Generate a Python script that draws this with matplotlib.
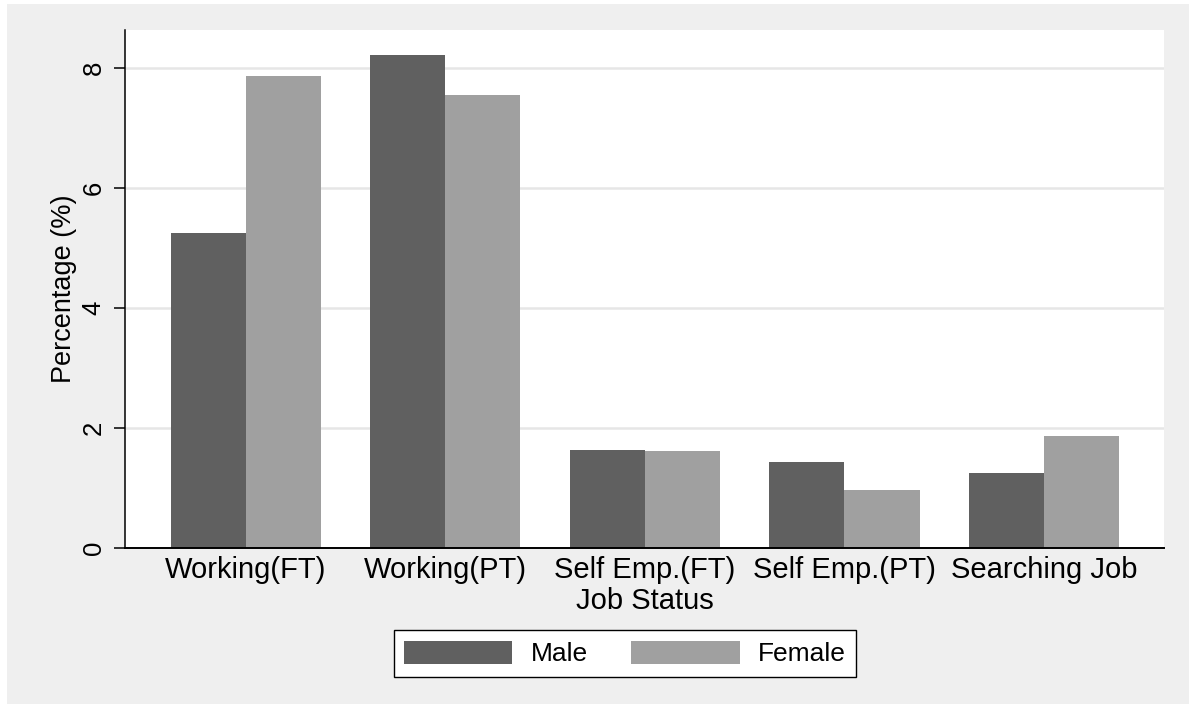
import matplotlib.pyplot as plt
import numpy as np
from matplotlib.patches import Rectangle

plt.rcParams['font.family'] = ['Liberation Sans', 'DejaVu Sans']

# dane
kategorie = ["Working(FT)", "Working(PT)", "Self Emp.(FT)", "Self Emp.(PT)", "Searching Job"]
male = [5.24, 8.22, 1.63, 1.43, 1.24]
female = [7.86, 7.54, 1.61, 0.96, 1.86]

W, H = 1189, 704
fig = plt.figure(figsize=(W / 100, H / 100), dpi=100, facecolor='white')

# szare tlo w stylu Staty (pod osiami)
fig.patches.append(Rectangle((7 / W, 0), 1 - 7 / W, 1 - 4 / H, transform=fig.transFigure,
                             facecolor='#efefef', edgecolor='none', zorder=-10))

ax = fig.add_axes([125 / W, (H - 547.6) / H, (1164 - 125) / W, (547.6 - 30) / H])
ax.set_facecolor('white')

x = np.arange(len(kategorie))
w = 0.376
ax.bar(x - w / 2, male, w, color='#606060', label='Male', zorder=2)
ax.bar(x + w / 2, female, w, color='#a0a0a0', label='Female', zorder=2)

ax.set_xlim(-0.605, 4.601)
ax.set_ylim(0, 8.63)
ax.set_yticks([0, 2, 4, 6, 8])
ax.set_xticks(x)
ax.set_xticklabels(kategorie, fontsize=21)
ax.tick_params(axis='x', length=0, pad=6)
ax.tick_params(axis='y', length=8, width=1.1, pad=6, labelsize=18.5)
for t in ax.get_yticklabels():
    t.set_rotation(90)
    t.set_va('center')

for y in [2, 4, 6, 8]:
    ax.axhline(y, color='#e6e6e6', lw=1.8, zorder=1)

ax.spines['top'].set_visible(False)
ax.spines['right'].set_visible(False)
ax.spines['left'].set_linewidth(1.1)
ax.spines['bottom'].set_linewidth(1.4)

ax.set_ylabel('Percentage (%)', fontsize=19.5, labelpad=3)
ax.set_xlabel('Job Status', fontsize=21, labelpad=2)

leg = ax.legend(loc='center', bbox_to_anchor=(625 / W, 1 - 653.5 / H), bbox_transform=fig.transFigure,
                ncol=2, fontsize=19, frameon=True, fancybox=False, handlelength=4.1, handleheight=0.95,
                handletextpad=0.7, columnspacing=1.65, borderpad=0.4)
leg.get_frame().set_edgecolor('black')
leg.get_frame().set_linewidth(1.0)
leg.get_frame().set_facecolor('white')
leg.get_frame().set_alpha(1)

fig.savefig('out.png', dpi=100, facecolor=fig.get_facecolor())
